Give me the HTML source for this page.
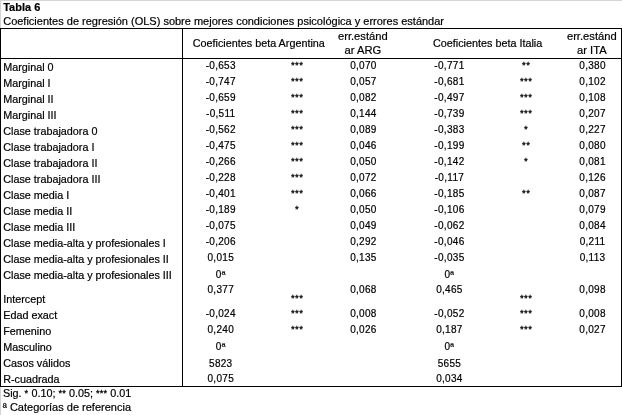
<!DOCTYPE html>
<html><head><meta charset="utf-8"><style>
html,body{margin:0;padding:0;background:#fff;}
body{width:622px;height:415px;position:relative;overflow:hidden;will-change:transform;font-family:"Liberation Sans",Arial,Helvetica,sans-serif;color:#000;}
.t{position:absolute;white-space:nowrap;-webkit-text-stroke:0.2px #000;line-height:20px;height:20px;}
.l{position:absolute;}
</style></head><body>
<div class="l" style="left:0px;top:0px;width:622px;height:1px;background:#d4d4d4"></div>
<div class="l" style="left:0px;top:0px;width:1px;height:415px;background:#d4d4d4"></div>
<div class="l" style="left:0px;top:28px;width:622px;height:1px;background:#000"></div>
<div class="l" style="left:0px;top:58px;width:622px;height:1px;background:#000"></div>
<div class="l" style="left:0px;top:386px;width:622px;height:1px;background:#000"></div>
<div class="l" style="left:0px;top:28px;width:1px;height:359px;background:#000"></div>
<div class="l" style="left:621px;top:28px;width:1px;height:359px;background:#000"></div>
<div class="l" style="left:182px;top:28px;width:1px;height:359px;background:#000"></div>
<div class="t" style="left:3.20px;top:-2.81px;font-size:11px;font-weight:bold;">Tabla 6</div>
<div class="t" style="left:3.20px;top:11.19px;font-size:11px;font-weight:normal;">Coeficientes de regresión (OLS) sobre mejores condiciones psicológica y errores estándar</div>
<div class="t" style="left:148.80px;top:32.76px;width:220px;text-align:center;font-size:10.8px;">Coeficientes beta Argentina</div>
<div class="t" style="left:377.65px;top:32.76px;width:220px;text-align:center;font-size:10.8px;">Coeficientes beta Italia</div>
<div class="t" style="left:252.85px;top:25.82px;width:220px;text-align:center;font-size:11.2px;">err.estánd</div>
<div class="t" style="left:252.85px;top:39.92px;width:220px;text-align:center;font-size:11.2px;">ar ARG</div>
<div class="t" style="left:481.80px;top:25.82px;width:220px;text-align:center;font-size:11.2px;">err.estánd</div>
<div class="t" style="left:481.80px;top:39.92px;width:220px;text-align:center;font-size:11.2px;">ar ITA</div>
<div class="t" style="left:3.20px;top:57.26px;font-size:10.8px;font-weight:normal;">Marginal 0</div>
<div class="t" style="left:110.60px;top:56.03px;width:220px;text-align:center;font-size:10.0px;letter-spacing:0.3px;text-indent:0.3px;">-0,653</div>
<div class="t" style="left:187.20px;top:55.27px;width:220px;text-align:center;font-size:9.6px;letter-spacing:0.4px;-webkit-text-stroke:0.3px #000;">***</div>
<div class="t" style="left:253.30px;top:56.03px;width:220px;text-align:center;font-size:10.0px;letter-spacing:0.3px;text-indent:0.3px;">0,070</div>
<div class="t" style="left:339.30px;top:56.03px;width:220px;text-align:center;font-size:10.0px;letter-spacing:0.3px;text-indent:0.3px;">-0,771</div>
<div class="t" style="left:416.20px;top:55.27px;width:220px;text-align:center;font-size:9.6px;letter-spacing:0.4px;-webkit-text-stroke:0.3px #000;">**</div>
<div class="t" style="left:482.40px;top:56.03px;width:220px;text-align:center;font-size:10.0px;letter-spacing:0.3px;text-indent:0.3px;">0,380</div>
<div class="t" style="left:3.20px;top:73.26px;font-size:10.8px;font-weight:normal;">Marginal I</div>
<div class="t" style="left:110.60px;top:72.03px;width:220px;text-align:center;font-size:10.0px;letter-spacing:0.3px;text-indent:0.3px;">-0,747</div>
<div class="t" style="left:187.20px;top:71.27px;width:220px;text-align:center;font-size:9.6px;letter-spacing:0.4px;-webkit-text-stroke:0.3px #000;">***</div>
<div class="t" style="left:253.30px;top:72.03px;width:220px;text-align:center;font-size:10.0px;letter-spacing:0.3px;text-indent:0.3px;">0,057</div>
<div class="t" style="left:339.30px;top:72.03px;width:220px;text-align:center;font-size:10.0px;letter-spacing:0.3px;text-indent:0.3px;">-0,681</div>
<div class="t" style="left:416.20px;top:71.27px;width:220px;text-align:center;font-size:9.6px;letter-spacing:0.4px;-webkit-text-stroke:0.3px #000;">***</div>
<div class="t" style="left:482.40px;top:72.03px;width:220px;text-align:center;font-size:10.0px;letter-spacing:0.3px;text-indent:0.3px;">0,102</div>
<div class="t" style="left:3.20px;top:89.26px;font-size:10.8px;font-weight:normal;">Marginal II</div>
<div class="t" style="left:110.60px;top:88.03px;width:220px;text-align:center;font-size:10.0px;letter-spacing:0.3px;text-indent:0.3px;">-0,659</div>
<div class="t" style="left:187.20px;top:87.27px;width:220px;text-align:center;font-size:9.6px;letter-spacing:0.4px;-webkit-text-stroke:0.3px #000;">***</div>
<div class="t" style="left:253.30px;top:88.03px;width:220px;text-align:center;font-size:10.0px;letter-spacing:0.3px;text-indent:0.3px;">0,082</div>
<div class="t" style="left:339.30px;top:88.03px;width:220px;text-align:center;font-size:10.0px;letter-spacing:0.3px;text-indent:0.3px;">-0,497</div>
<div class="t" style="left:416.20px;top:87.27px;width:220px;text-align:center;font-size:9.6px;letter-spacing:0.4px;-webkit-text-stroke:0.3px #000;">***</div>
<div class="t" style="left:482.40px;top:88.03px;width:220px;text-align:center;font-size:10.0px;letter-spacing:0.3px;text-indent:0.3px;">0,108</div>
<div class="t" style="left:3.20px;top:105.26px;font-size:10.8px;font-weight:normal;">Marginal III</div>
<div class="t" style="left:110.60px;top:104.03px;width:220px;text-align:center;font-size:10.0px;letter-spacing:0.3px;text-indent:0.3px;">-0,511</div>
<div class="t" style="left:187.20px;top:103.27px;width:220px;text-align:center;font-size:9.6px;letter-spacing:0.4px;-webkit-text-stroke:0.3px #000;">***</div>
<div class="t" style="left:253.30px;top:104.03px;width:220px;text-align:center;font-size:10.0px;letter-spacing:0.3px;text-indent:0.3px;">0,144</div>
<div class="t" style="left:339.30px;top:104.03px;width:220px;text-align:center;font-size:10.0px;letter-spacing:0.3px;text-indent:0.3px;">-0,739</div>
<div class="t" style="left:416.20px;top:103.27px;width:220px;text-align:center;font-size:9.6px;letter-spacing:0.4px;-webkit-text-stroke:0.3px #000;">***</div>
<div class="t" style="left:482.40px;top:104.03px;width:220px;text-align:center;font-size:10.0px;letter-spacing:0.3px;text-indent:0.3px;">0,207</div>
<div class="t" style="left:3.20px;top:121.26px;font-size:10.8px;font-weight:normal;">Clase trabajadora 0</div>
<div class="t" style="left:110.60px;top:120.03px;width:220px;text-align:center;font-size:10.0px;letter-spacing:0.3px;text-indent:0.3px;">-0,562</div>
<div class="t" style="left:187.20px;top:119.27px;width:220px;text-align:center;font-size:9.6px;letter-spacing:0.4px;-webkit-text-stroke:0.3px #000;">***</div>
<div class="t" style="left:253.30px;top:120.03px;width:220px;text-align:center;font-size:10.0px;letter-spacing:0.3px;text-indent:0.3px;">0,089</div>
<div class="t" style="left:339.30px;top:120.03px;width:220px;text-align:center;font-size:10.0px;letter-spacing:0.3px;text-indent:0.3px;">-0,383</div>
<div class="t" style="left:416.20px;top:119.27px;width:220px;text-align:center;font-size:9.6px;letter-spacing:0.4px;-webkit-text-stroke:0.3px #000;">*</div>
<div class="t" style="left:482.40px;top:120.03px;width:220px;text-align:center;font-size:10.0px;letter-spacing:0.3px;text-indent:0.3px;">0,227</div>
<div class="t" style="left:3.20px;top:137.26px;font-size:10.8px;font-weight:normal;">Clase trabajadora I</div>
<div class="t" style="left:110.60px;top:136.03px;width:220px;text-align:center;font-size:10.0px;letter-spacing:0.3px;text-indent:0.3px;">-0,475</div>
<div class="t" style="left:187.20px;top:135.27px;width:220px;text-align:center;font-size:9.6px;letter-spacing:0.4px;-webkit-text-stroke:0.3px #000;">***</div>
<div class="t" style="left:253.30px;top:136.03px;width:220px;text-align:center;font-size:10.0px;letter-spacing:0.3px;text-indent:0.3px;">0,046</div>
<div class="t" style="left:339.30px;top:136.03px;width:220px;text-align:center;font-size:10.0px;letter-spacing:0.3px;text-indent:0.3px;">-0,199</div>
<div class="t" style="left:416.20px;top:135.27px;width:220px;text-align:center;font-size:9.6px;letter-spacing:0.4px;-webkit-text-stroke:0.3px #000;">**</div>
<div class="t" style="left:482.40px;top:136.03px;width:220px;text-align:center;font-size:10.0px;letter-spacing:0.3px;text-indent:0.3px;">0,080</div>
<div class="t" style="left:3.20px;top:153.26px;font-size:10.8px;font-weight:normal;">Clase trabajadora II</div>
<div class="t" style="left:110.60px;top:152.03px;width:220px;text-align:center;font-size:10.0px;letter-spacing:0.3px;text-indent:0.3px;">-0,266</div>
<div class="t" style="left:187.20px;top:151.27px;width:220px;text-align:center;font-size:9.6px;letter-spacing:0.4px;-webkit-text-stroke:0.3px #000;">***</div>
<div class="t" style="left:253.30px;top:152.03px;width:220px;text-align:center;font-size:10.0px;letter-spacing:0.3px;text-indent:0.3px;">0,050</div>
<div class="t" style="left:339.30px;top:152.03px;width:220px;text-align:center;font-size:10.0px;letter-spacing:0.3px;text-indent:0.3px;">-0,142</div>
<div class="t" style="left:416.20px;top:151.27px;width:220px;text-align:center;font-size:9.6px;letter-spacing:0.4px;-webkit-text-stroke:0.3px #000;">*</div>
<div class="t" style="left:482.40px;top:152.03px;width:220px;text-align:center;font-size:10.0px;letter-spacing:0.3px;text-indent:0.3px;">0,081</div>
<div class="t" style="left:3.20px;top:169.26px;font-size:10.8px;font-weight:normal;">Clase trabajadora III</div>
<div class="t" style="left:110.60px;top:168.03px;width:220px;text-align:center;font-size:10.0px;letter-spacing:0.3px;text-indent:0.3px;">-0,228</div>
<div class="t" style="left:187.20px;top:167.27px;width:220px;text-align:center;font-size:9.6px;letter-spacing:0.4px;-webkit-text-stroke:0.3px #000;">***</div>
<div class="t" style="left:253.30px;top:168.03px;width:220px;text-align:center;font-size:10.0px;letter-spacing:0.3px;text-indent:0.3px;">0,072</div>
<div class="t" style="left:339.30px;top:168.03px;width:220px;text-align:center;font-size:10.0px;letter-spacing:0.3px;text-indent:0.3px;">-0,117</div>
<div class="t" style="left:482.40px;top:168.03px;width:220px;text-align:center;font-size:10.0px;letter-spacing:0.3px;text-indent:0.3px;">0,126</div>
<div class="t" style="left:3.20px;top:185.26px;font-size:10.8px;font-weight:normal;">Clase media I</div>
<div class="t" style="left:110.60px;top:184.03px;width:220px;text-align:center;font-size:10.0px;letter-spacing:0.3px;text-indent:0.3px;">-0,401</div>
<div class="t" style="left:187.20px;top:183.27px;width:220px;text-align:center;font-size:9.6px;letter-spacing:0.4px;-webkit-text-stroke:0.3px #000;">***</div>
<div class="t" style="left:253.30px;top:184.03px;width:220px;text-align:center;font-size:10.0px;letter-spacing:0.3px;text-indent:0.3px;">0,066</div>
<div class="t" style="left:339.30px;top:184.03px;width:220px;text-align:center;font-size:10.0px;letter-spacing:0.3px;text-indent:0.3px;">-0,185</div>
<div class="t" style="left:416.20px;top:183.27px;width:220px;text-align:center;font-size:9.6px;letter-spacing:0.4px;-webkit-text-stroke:0.3px #000;">**</div>
<div class="t" style="left:482.40px;top:184.03px;width:220px;text-align:center;font-size:10.0px;letter-spacing:0.3px;text-indent:0.3px;">0,087</div>
<div class="t" style="left:3.20px;top:201.26px;font-size:10.8px;font-weight:normal;">Clase media II</div>
<div class="t" style="left:110.60px;top:200.03px;width:220px;text-align:center;font-size:10.0px;letter-spacing:0.3px;text-indent:0.3px;">-0,189</div>
<div class="t" style="left:187.20px;top:199.27px;width:220px;text-align:center;font-size:9.6px;letter-spacing:0.4px;-webkit-text-stroke:0.3px #000;">*</div>
<div class="t" style="left:253.30px;top:200.03px;width:220px;text-align:center;font-size:10.0px;letter-spacing:0.3px;text-indent:0.3px;">0,050</div>
<div class="t" style="left:339.30px;top:200.03px;width:220px;text-align:center;font-size:10.0px;letter-spacing:0.3px;text-indent:0.3px;">-0,106</div>
<div class="t" style="left:482.40px;top:200.03px;width:220px;text-align:center;font-size:10.0px;letter-spacing:0.3px;text-indent:0.3px;">0,079</div>
<div class="t" style="left:3.20px;top:217.26px;font-size:10.8px;font-weight:normal;">Clase media III</div>
<div class="t" style="left:110.60px;top:216.03px;width:220px;text-align:center;font-size:10.0px;letter-spacing:0.3px;text-indent:0.3px;">-0,075</div>
<div class="t" style="left:253.30px;top:216.03px;width:220px;text-align:center;font-size:10.0px;letter-spacing:0.3px;text-indent:0.3px;">0,049</div>
<div class="t" style="left:339.30px;top:216.03px;width:220px;text-align:center;font-size:10.0px;letter-spacing:0.3px;text-indent:0.3px;">-0,062</div>
<div class="t" style="left:482.40px;top:216.03px;width:220px;text-align:center;font-size:10.0px;letter-spacing:0.3px;text-indent:0.3px;">0,084</div>
<div class="t" style="left:3.20px;top:233.26px;font-size:10.8px;font-weight:normal;">Clase media-alta y profesionales I</div>
<div class="t" style="left:110.60px;top:232.03px;width:220px;text-align:center;font-size:10.0px;letter-spacing:0.3px;text-indent:0.3px;">-0,206</div>
<div class="t" style="left:253.30px;top:232.03px;width:220px;text-align:center;font-size:10.0px;letter-spacing:0.3px;text-indent:0.3px;">0,292</div>
<div class="t" style="left:339.30px;top:232.03px;width:220px;text-align:center;font-size:10.0px;letter-spacing:0.3px;text-indent:0.3px;">-0,046</div>
<div class="t" style="left:482.40px;top:232.03px;width:220px;text-align:center;font-size:10.0px;letter-spacing:0.3px;text-indent:0.3px;">0,211</div>
<div class="t" style="left:3.20px;top:249.26px;font-size:10.8px;font-weight:normal;">Clase media-alta y profesionales II</div>
<div class="t" style="left:110.60px;top:248.03px;width:220px;text-align:center;font-size:10.0px;letter-spacing:0.3px;text-indent:0.3px;">0,015</div>
<div class="t" style="left:253.30px;top:248.03px;width:220px;text-align:center;font-size:10.0px;letter-spacing:0.3px;text-indent:0.3px;">0,135</div>
<div class="t" style="left:339.30px;top:248.03px;width:220px;text-align:center;font-size:10.0px;letter-spacing:0.3px;text-indent:0.3px;">-0,035</div>
<div class="t" style="left:482.40px;top:248.03px;width:220px;text-align:center;font-size:10.0px;letter-spacing:0.3px;text-indent:0.3px;">0,113</div>
<div class="t" style="left:3.20px;top:265.26px;font-size:10.8px;font-weight:normal;">Clase media-alta y profesionales III</div>
<div class="t" style="left:110.60px;top:265.14px;width:220px;text-align:center;font-size:10.0px;letter-spacing:0.3px;text-indent:0.3px;">0ª</div>
<div class="t" style="left:339.30px;top:265.14px;width:220px;text-align:center;font-size:10.0px;letter-spacing:0.3px;text-indent:0.3px;">0ª</div>
<div class="t" style="left:3.20px;top:289.26px;font-size:10.8px;font-weight:normal;">Intercept</div>
<div class="t" style="left:110.60px;top:280.04px;width:220px;text-align:center;font-size:10.0px;letter-spacing:0.3px;text-indent:0.3px;">0,377</div>
<div class="t" style="left:187.20px;top:287.77px;width:220px;text-align:center;font-size:9.6px;letter-spacing:0.4px;-webkit-text-stroke:0.3px #000;">***</div>
<div class="t" style="left:253.30px;top:280.04px;width:220px;text-align:center;font-size:10.0px;letter-spacing:0.3px;text-indent:0.3px;">0,068</div>
<div class="t" style="left:339.30px;top:280.04px;width:220px;text-align:center;font-size:10.0px;letter-spacing:0.3px;text-indent:0.3px;">0,465</div>
<div class="t" style="left:416.20px;top:287.77px;width:220px;text-align:center;font-size:9.6px;letter-spacing:0.4px;-webkit-text-stroke:0.3px #000;">***</div>
<div class="t" style="left:482.40px;top:280.04px;width:220px;text-align:center;font-size:10.0px;letter-spacing:0.3px;text-indent:0.3px;">0,098</div>
<div class="t" style="left:3.20px;top:305.26px;font-size:10.8px;font-weight:normal;">Edad exact</div>
<div class="t" style="left:110.60px;top:304.04px;width:220px;text-align:center;font-size:10.0px;letter-spacing:0.3px;text-indent:0.3px;">-0,024</div>
<div class="t" style="left:187.20px;top:303.27px;width:220px;text-align:center;font-size:9.6px;letter-spacing:0.4px;-webkit-text-stroke:0.3px #000;">***</div>
<div class="t" style="left:253.30px;top:304.04px;width:220px;text-align:center;font-size:10.0px;letter-spacing:0.3px;text-indent:0.3px;">0,008</div>
<div class="t" style="left:339.30px;top:304.04px;width:220px;text-align:center;font-size:10.0px;letter-spacing:0.3px;text-indent:0.3px;">-0,052</div>
<div class="t" style="left:416.20px;top:303.27px;width:220px;text-align:center;font-size:9.6px;letter-spacing:0.4px;-webkit-text-stroke:0.3px #000;">***</div>
<div class="t" style="left:482.40px;top:304.04px;width:220px;text-align:center;font-size:10.0px;letter-spacing:0.3px;text-indent:0.3px;">0,008</div>
<div class="t" style="left:3.20px;top:321.26px;font-size:10.8px;font-weight:normal;">Femenino</div>
<div class="t" style="left:110.60px;top:320.04px;width:220px;text-align:center;font-size:10.0px;letter-spacing:0.3px;text-indent:0.3px;">0,240</div>
<div class="t" style="left:187.20px;top:319.27px;width:220px;text-align:center;font-size:9.6px;letter-spacing:0.4px;-webkit-text-stroke:0.3px #000;">***</div>
<div class="t" style="left:253.30px;top:320.04px;width:220px;text-align:center;font-size:10.0px;letter-spacing:0.3px;text-indent:0.3px;">0,026</div>
<div class="t" style="left:339.30px;top:320.04px;width:220px;text-align:center;font-size:10.0px;letter-spacing:0.3px;text-indent:0.3px;">0,187</div>
<div class="t" style="left:416.20px;top:319.27px;width:220px;text-align:center;font-size:9.6px;letter-spacing:0.4px;-webkit-text-stroke:0.3px #000;">***</div>
<div class="t" style="left:482.40px;top:320.04px;width:220px;text-align:center;font-size:10.0px;letter-spacing:0.3px;text-indent:0.3px;">0,027</div>
<div class="t" style="left:3.20px;top:337.26px;font-size:10.8px;font-weight:normal;">Masculino</div>
<div class="t" style="left:110.60px;top:337.14px;width:220px;text-align:center;font-size:10.0px;letter-spacing:0.3px;text-indent:0.3px;">0ª</div>
<div class="t" style="left:339.30px;top:337.14px;width:220px;text-align:center;font-size:10.0px;letter-spacing:0.3px;text-indent:0.3px;">0ª</div>
<div class="t" style="left:3.20px;top:353.26px;font-size:10.8px;font-weight:normal;">Casos válidos</div>
<div class="t" style="left:110.60px;top:354.14px;width:220px;text-align:center;font-size:10.0px;letter-spacing:0.3px;text-indent:0.3px;">5823</div>
<div class="t" style="left:339.30px;top:354.14px;width:220px;text-align:center;font-size:10.0px;letter-spacing:0.3px;text-indent:0.3px;">5655</div>
<div class="t" style="left:3.20px;top:369.26px;font-size:10.8px;font-weight:normal;">R-cuadrada</div>
<div class="t" style="left:110.60px;top:369.14px;width:220px;text-align:center;font-size:10.0px;letter-spacing:0.3px;text-indent:0.3px;">0,075</div>
<div class="t" style="left:339.30px;top:369.14px;width:220px;text-align:center;font-size:10.0px;letter-spacing:0.3px;text-indent:0.3px;">0,034</div>
<div class="t" style="left:3.00px;top:383.26px;font-size:10.8px;font-weight:normal;">Sig. <span style="position:relative;top:-1.6px;font-size:9.2px;letter-spacing:0.2px;-webkit-text-stroke:0.3px #000">*</span> 0.10; <span style="position:relative;top:-1.6px;font-size:9.2px;letter-spacing:0.2px;-webkit-text-stroke:0.3px #000">**</span> 0.05; <span style="position:relative;top:-1.6px;font-size:9.2px;letter-spacing:0.2px;-webkit-text-stroke:0.3px #000">***</span> 0.01</div>
<div class="t" style="left:2.80px;top:396.99px;font-size:11.0px;font-weight:normal;">ª Categorías de referencia</div>
</body></html>
